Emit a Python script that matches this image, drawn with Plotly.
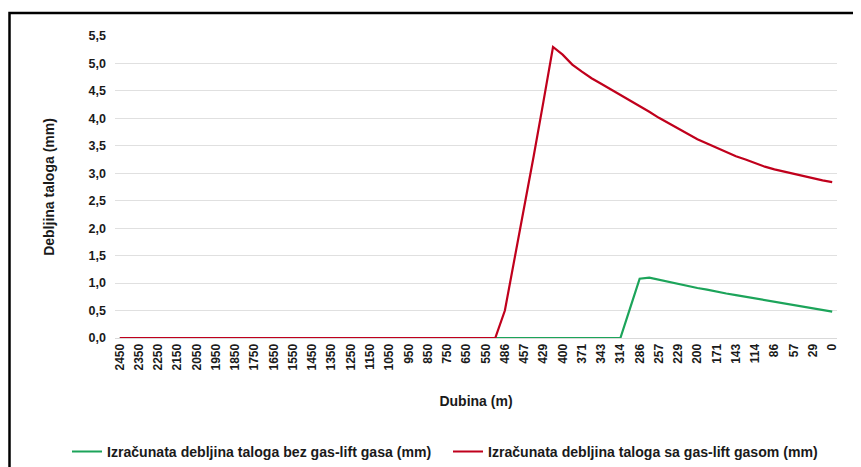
import plotly.graph_objects as go

depth_labels = [
    "2450", "2400", "2350", "2300", "2250", "2200", "2150", "2100", "2050", "2000",
    "1950", "1900", "1850", "1800", "1750", "1700", "1650", "1600", "1550", "1500",
    "1450", "1400", "1350", "1300", "1250", "1200", "1150", "1100", "1050", "1000",
    "950", "900", "850", "800", "750", "700", "650", "600", "550", "500",
    "486", "471", "457", "443", "429", "414", "400", "386", "371", "357",
    "343", "329", "314", "300", "286", "271", "257", "243", "229", "214",
    "200", "186", "171", "157", "143", "129", "114", "100", "86", "71",
    "57", "43", "29", "14", "0",
]

thickness_without_gaslift = [
    0, 0, 0, 0, 0, 0, 0, 0, 0, 0,
    0, 0, 0, 0, 0, 0, 0, 0, 0, 0,
    0, 0, 0, 0, 0, 0, 0, 0, 0, 0,
    0, 0, 0, 0, 0, 0, 0, 0, 0, 0,
    0, 0, 0, 0, 0, 0, 0, 0, 0, 0,
    0, 0, 0, 0.54, 1.08, 1.10, 1.06, 1.02, 0.98, 0.95,
    0.91, 0.88, 0.84, 0.81, 0.78, 0.75, 0.72, 0.69, 0.66, 0.63,
    0.60, 0.57, 0.54, 0.51, 0.48,
]

thickness_with_gaslift = [
    0, 0, 0, 0, 0, 0, 0, 0, 0, 0,
    0, 0, 0, 0, 0, 0, 0, 0, 0, 0,
    0, 0, 0, 0, 0, 0, 0, 0, 0, 0,
    0, 0, 0, 0, 0, 0, 0, 0, 0, 0,
    0.50, 1.42, 2.38, 3.32, 4.30, 5.30, 5.16, 4.98, 4.85, 4.73,
    4.63, 4.53, 4.43, 4.33, 4.22, 4.12, 4.01, 3.91, 3.81, 3.71,
    3.62, 3.54, 3.46, 3.38, 3.31, 3.25, 3.18, 3.12, 3.07, 3.03,
    2.98, 2.95, 2.91, 2.87, 2.84,
]

series_names = [
    "Izračunata debljina taloga bez gas-lift gasa (mm)",
    "Izračunata debljina taloga sa gas-lift gasom (mm)",
]

# page body has an 8px margin; size the figure so it fills the window
OFF = 8
W, H = 861 - OFF, 467 - OFF
# plot area in page pixels: x 115..837, y 35.5..338
L = 115 - OFF
R = W - (837 - OFF)
T = 35.5 - OFF
B = H - (338 - OFF)
PW = W - L - R
PH = H - T - B


def px_x(page_px):
    return (page_px - OFF - L) / PW


def px_y(page_py):
    return (H - B - (page_py - OFF)) / PH


font_main = "Liberation Sans, Arial, sans-serif"
ink = "#1a1a1a"

fig = go.Figure()
fig.add_trace(go.Scatter(
    x=depth_labels, y=thickness_without_gaslift, mode="lines",
    name=series_names[0], line=dict(color="#1ca45a", width=2.2),
))
fig.add_trace(go.Scatter(
    x=depth_labels, y=thickness_with_gaslift, mode="lines",
    name=series_names[1], line=dict(color="#c0001c", width=2.2),
))

fig.update_layout(
    width=W, height=H,
    margin=dict(l=L, r=R, t=T, b=B, autoexpand=False),
    paper_bgcolor="white", plot_bgcolor="white",
    separators=",.",
    font=dict(family=font_main, size=12, color="#222222"),
    showlegend=True,
    legend=dict(
        orientation="h", x=px_x(67), xanchor="left",
        y=px_y(452), yanchor="middle",
        font=dict(family=font_main, size=14.1, color=ink, weight="bold"),
        itemwidth=30, entrywidth=336, tracegroupgap=0,
        bgcolor="rgba(0,0,0,0)",
    ),
    shapes=[dict(
        type="rect", xref="paper", yref="paper",
        x0=px_x(9.5), x1=px_x(900), y0=px_y(520), y1=px_y(12.5),
        line=dict(color="black", width=2.5), fillcolor="rgba(0,0,0,0)",
        layer="above",
    )],
)

fig.update_xaxes(
    type="category", categoryorder="array", categoryarray=depth_labels,
    range=[-0.5, len(depth_labels) - 0.5],
    tickmode="array", tickvals=depth_labels[::2], ticktext=depth_labels[::2],
    tickangle=-90, ticks="", showgrid=False, zeroline=False,
    showline=True, linecolor="#d9d9d9", linewidth=1,
    tickfont=dict(family=font_main, size=12, color=ink, weight="bold"),
    title=dict(text="Dubina (m)", standoff=26,
               font=dict(family=font_main, size=14, color=ink, weight="bold")),
)

fig.update_yaxes(
    range=[0, 5.5], tickmode="linear", tick0=0, dtick=0.5, tickformat=".1f",
    showgrid=True, gridcolor="#e0e0e0", gridwidth=1, zeroline=False,
    showline=False, ticks="", ticklabelstandoff=8,
    tickfont=dict(family=font_main, size=12.5, color=ink, weight="bold"),
    title=dict(text="Debljina taloga (mm)", standoff=30,
               font=dict(family=font_main, size=14, color=ink, weight="bold")),
)

fig.write_html("out.html")
